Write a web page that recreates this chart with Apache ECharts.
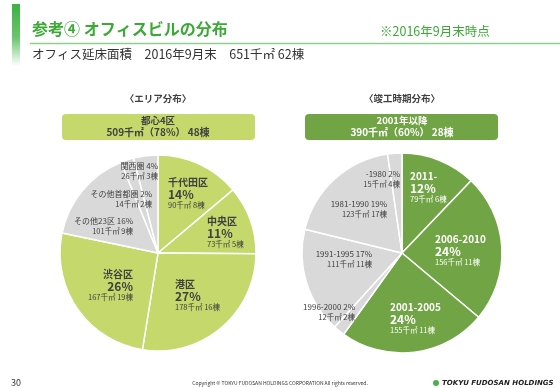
<!DOCTYPE html>
<html><head><meta charset="utf-8">
<script src="https://cdn.jsdelivr.net/npm/echarts@6/dist/echarts.min.js"></script>
<style>html,body{margin:0;padding:0;background:#fff}#c{width:560px;height:388px}</style>
</head><body><div id="c"></div>
<script>
// ---- data ----
const areaNames = ['千代田区','中央区','港区','渋谷区','その他23区','その他首都圏','関西圏'];
const areaValues = [90, 73, 178, 167, 101, 14, 26];
const areaPct = [14, 11, 27, 26, 16, 2, 4];
const areaCount = [8, 5, 16, 19, 9, 2, 3];
const areaCore = [true, true, true, true, false, false, false];

const periodNames = ['2011-','2006-2010','2001-2005','1996-2000','1991-1995','1981-1990','-1980'];
const periodValues = [79, 156, 155, 12, 111, 123, 15];
const periodPct = [12, 24, 24, 2, 17, 19, 2];
const periodCount = [6, 11, 11, 2, 11, 17, 4];
const periodRecent = [true, true, true, false, false, false, false];

// ---- style ----
const FONT = '"Noto Sans CJK JP", "Noto Sans", sans-serif';
const LG = '#c4d86c', DG = '#70a444', GR = '#d9d9d9', TXT = '#404040';
const C1 = [158, 253], R1 = 98;
const C2 = [402, 253], R2 = 100;
// label anchor offsets relative to pie centre
const areaLab = [[10,-76,'left'],[49,-37,'left'],[17,26,'left'],[-25,16,'right'],[-25,-37,'right'],[-6,-64,'right'],[0,-92,'right']];
const periodLab = [[8,-82,'left'],[33,-19,'left'],[-12,49,'left'],[-47,49,'right'],[-30,-4,'right'],[-15,-54,'right'],[-2,-84,'right']];

function richFor(color, align) {
  return {
    n: {fontFamily: FONT, fontSize: 10, fontWeight: 'bold', color: color, lineHeight: 11, align: align},
    p: {fontFamily: FONT, fontSize: 12, fontWeight: 'bold', color: color, lineHeight: 12, align: align},
    s: {fontFamily: FONT, fontSize: 7.5, color: color, lineHeight: 11, align: align},
    g: {fontFamily: FONT, fontSize: 8, color: TXT, lineHeight: 10, align: align},
    h: {fontFamily: FONT, fontSize: 7.5, color: TXT, lineHeight: 10, align: align}
  };
}

function buildData(names, values, pct, count, main, mainColor, textColor, labs) {
  return names.map((n, i) => {
    const big = main[i];
    const align = labs[i][2];
    const fmt = big
      ? `{n|${n}}\n{p|${pct[i]}%}\n{s|${values[i]}千㎡ ${count[i]}棟}`
      : `{g|${n} ${pct[i]}%}\n{h|${values[i]}千㎡ ${count[i]}棟}`;
    return {
      name: n, value: values[i],
      itemStyle: {color: big ? mainColor : GR},
      label: {show: true, position: 'inside', formatter: fmt, align: align,
              rich: richFor(big ? textColor : TXT, align)}
    };
  });
}

function layoutFn(center, labs) {
  return function (params) {
    const l = labs[params.dataIndex];
    return {x: center[0] + l[0], y: center[1] + l[1], align: l[2], verticalAlign: 'top'};
  };
}

const chart = echarts.init(document.getElementById('c'), null, {renderer: 'canvas'});

const graphics = [
  {type: 'rect', shape: {x: 12, y: 4, width: 8, height: 62}, style: {fill: new echarts.graphic.LinearGradient(0,0,0,1,[{offset:0,color:'#3cb043'},{offset:0.55,color:'#6cc66f'},{offset:1,color:'#ffffff'}])}},
  {type: 'line', shape: {x1: 30, y1: 43.5, x2: 560, y2: 43.5}, style: {stroke: '#8fd08f', lineWidth: 1.5}},
  {type: 'text', x: 32, y: 21, style: {text: '参考④ オフィスビルの分布', font: 'bold 16px ' + FONT, fill: '#3aaa35'}},
  {type: 'text', x: 380, y: 25, style: {text: '※2016年9月末時点', font: '12.5px ' + FONT, fill: '#3aaa35'}},
  {type: 'text', x: 32, y: 48, style: {text: 'オフィス延床面積　2016年9月末　651千㎡ 62棟', font: '12.5px ' + FONT, fill: '#333333'}},
  {type: 'text', x: 158, y: 98, style: {text: '〈エリア分布〉', font: 'bold 9.5px ' + FONT, fill: TXT, align: 'center', verticalAlign: 'middle'}},
  {type: 'text', x: 402, y: 98, style: {text: '〈竣工時期分布〉', font: 'bold 9.5px ' + FONT, fill: TXT, align: 'center', verticalAlign: 'middle'}},
  {type: 'rect', shape: {x: 62, y: 114, width: 193, height: 26, r: 4}, style: {fill: LG}},
  {type: 'rect', shape: {x: 305, y: 114, width: 193, height: 26, r: 4}, style: {fill: DG}},
  {type: 'text', x: 158, y: 120.5, style: {text: '都心4区', font: 'bold 9.5px ' + FONT, fill: TXT, align: 'center', verticalAlign: 'middle'}},
  {type: 'text', x: 158, y: 132.5, style: {text: '509千㎡（78%） 48棟', font: 'bold 10px ' + FONT, fill: TXT, align: 'center', verticalAlign: 'middle'}},
  {type: 'text', x: 402, y: 120.5, style: {text: '2001年以降', font: 'bold 9.5px ' + FONT, fill: '#ffffff', align: 'center', verticalAlign: 'middle'}},
  {type: 'text', x: 402, y: 132.5, style: {text: '390千㎡（60%） 28棟', font: 'bold 10px ' + FONT, fill: '#ffffff', align: 'center', verticalAlign: 'middle'}},
  {type: 'text', x: 11, y: 383, style: {text: '30', font: '9px ' + FONT, fill: '#333333', verticalAlign: 'middle'}},
  {type: 'text', x: 280, y: 383, style: {text: 'Copyright © TOKYU FUDOSAN HOLDINGS CORPORATION All rights reserved.', font: '5px ' + FONT, fill: '#333333', align: 'center', verticalAlign: 'middle'}},
  {type: 'circle', shape: {cx: 436, cy: 383, r: 3}, style: {fill: '#4cae4c'}},
  {type: 'text', x: 442, y: 383, style: {text: 'TOKYU FUDOSAN HOLDINGS', font: 'italic bold 7px "DejaVu Sans", sans-serif', fill: '#222222', verticalAlign: 'middle'}}
];

chart.setOption({
  animation: false,
  backgroundColor: '#ffffff',
  graphic: graphics,
  series: [
    {type: 'pie', center: C1, radius: [0, R1], startAngle: 90, clockwise: true,
     silent: true, labelLine: {show: false},
     itemStyle: {borderColor: '#ffffff', borderWidth: 1.5},
     labelLayout: layoutFn(C1, areaLab),
     data: buildData(areaNames, areaValues, areaPct, areaCount, areaCore, LG, TXT, areaLab)},
    {type: 'pie', center: C2, radius: [0, R2], startAngle: 90, clockwise: true,
     silent: true, labelLine: {show: false},
     itemStyle: {borderColor: '#ffffff', borderWidth: 1.5},
     labelLayout: layoutFn(C2, periodLab),
     data: buildData(periodNames, periodValues, periodPct, periodCount, periodRecent, DG, '#ffffff', periodLab)}
  ]
});
</script></body></html>
